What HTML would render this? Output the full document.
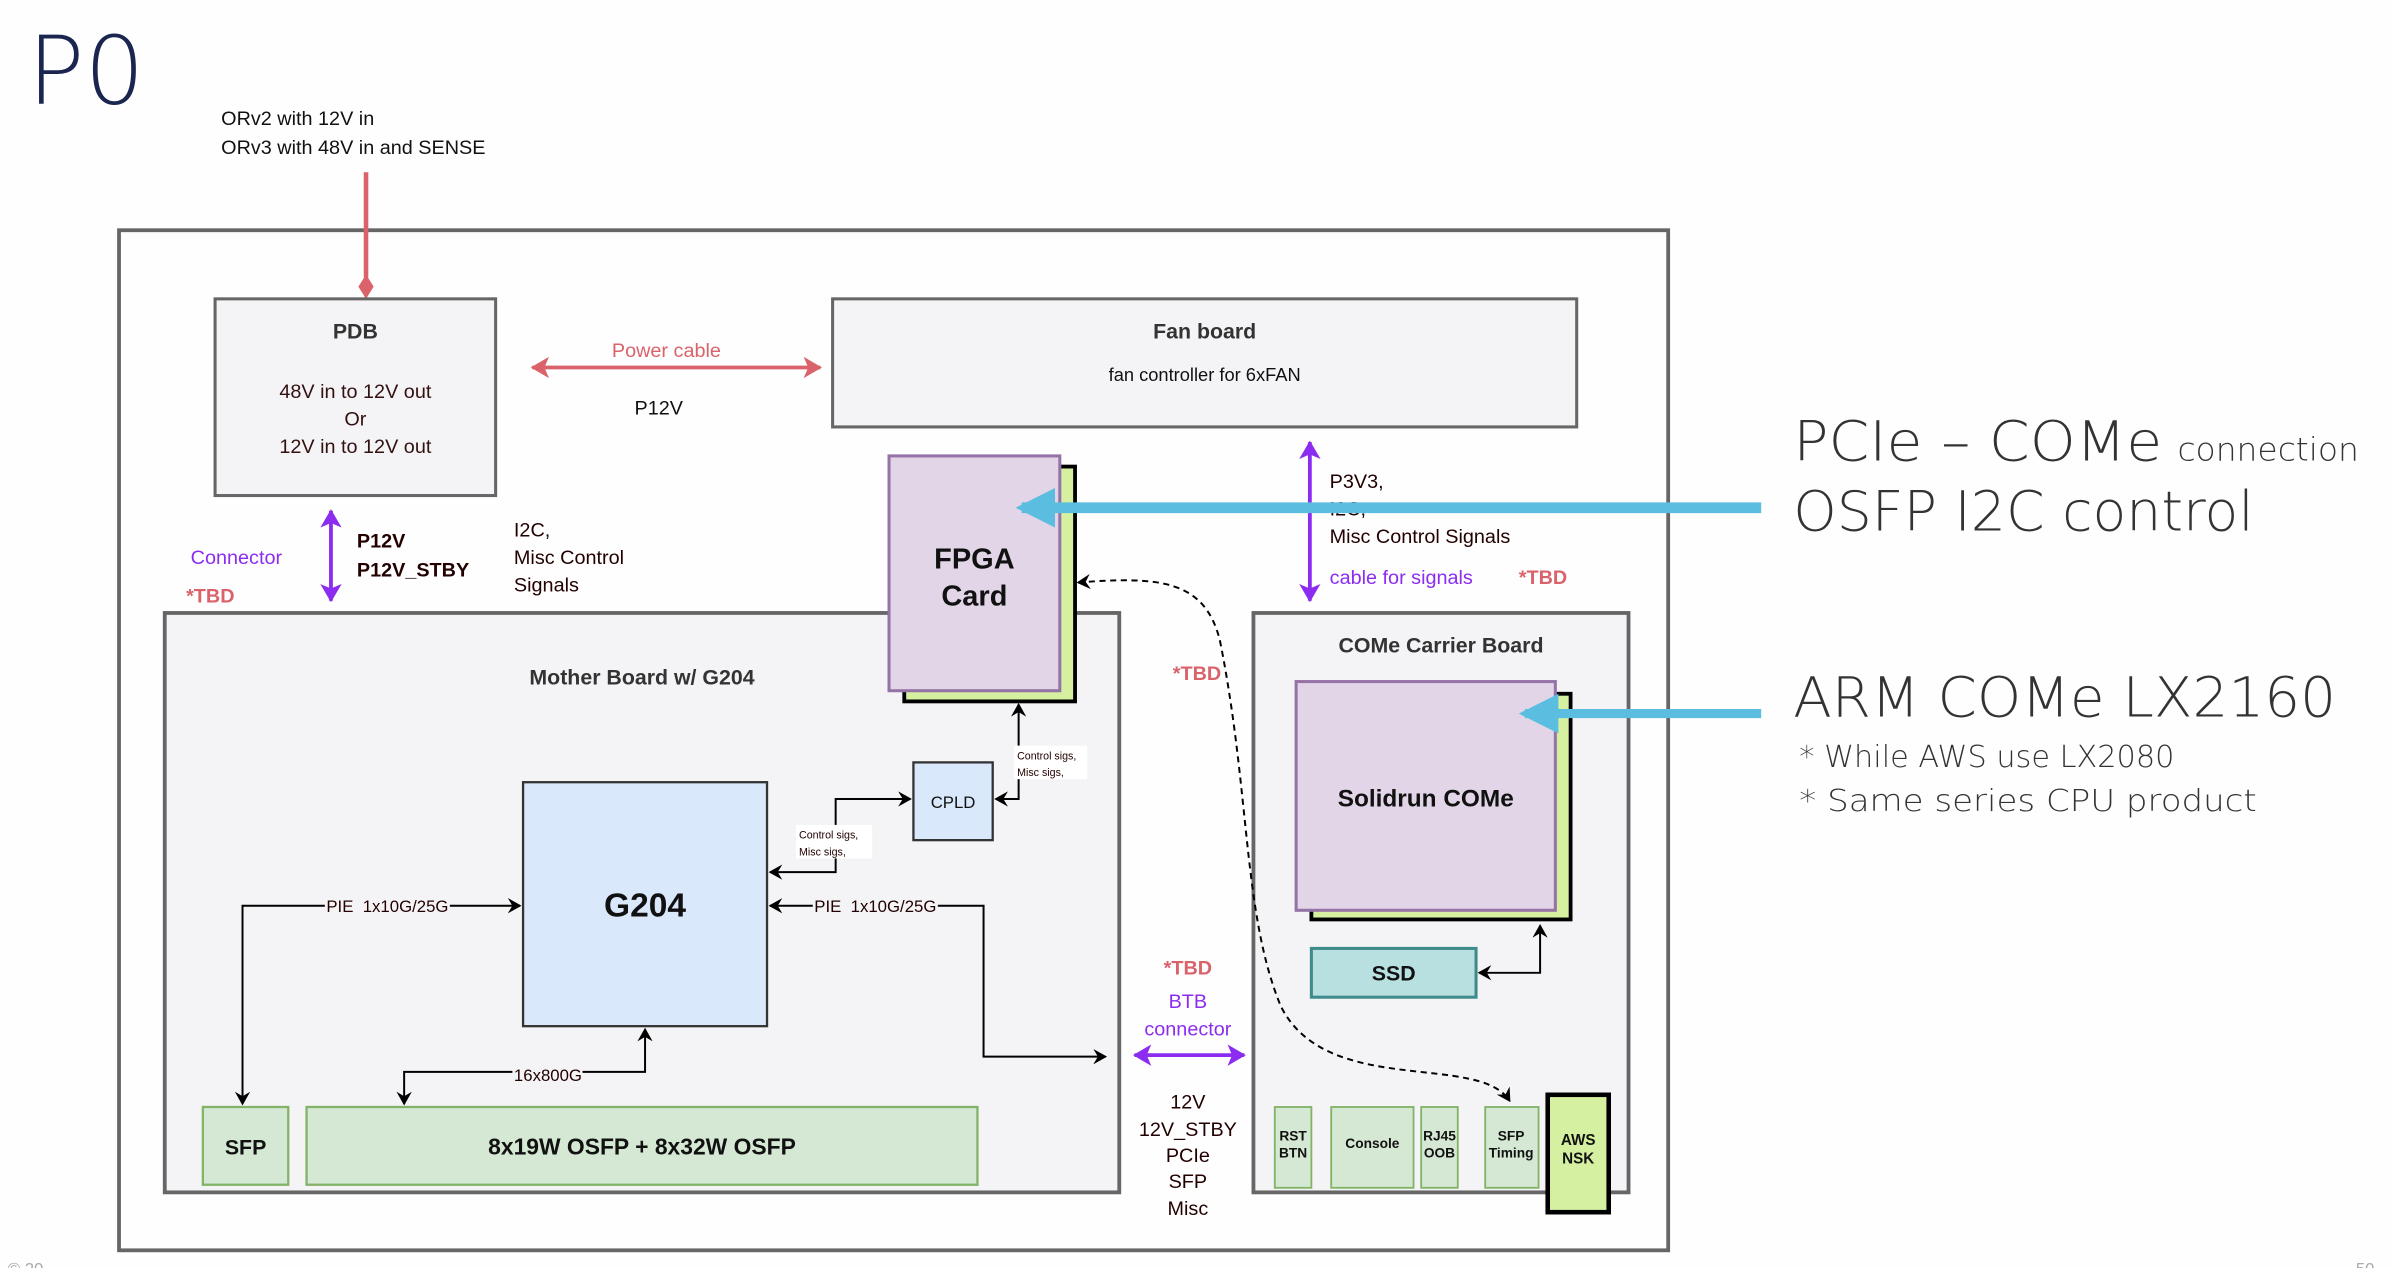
<!DOCTYPE html>
<html><head><meta charset="utf-8"><style>
html,body{margin:0;padding:0;background:#fefefe;}
svg{display:block;font-family:"Liberation Sans",Arial,sans-serif;}
</style></head><body>
<svg width="2391" height="1268" viewBox="0 0 1568 831.6" xmlns="http://www.w3.org/2000/svg">
<defs>
<marker id="ab" markerWidth="10" markerHeight="10" refX="8" refY="5" orient="auto-start-reverse" markerUnits="userSpaceOnUse"><path d="M0,0 L9,5 L0,10 L3,5 z" fill="#000"/></marker>
<marker id="ap" markerWidth="14" markerHeight="14" refX="11" refY="7" orient="auto-start-reverse" markerUnits="userSpaceOnUse"><path d="M0,0 L12,7 L0,14 L3,7 z" fill="#8c2cf0"/></marker>
<marker id="ar" markerWidth="14" markerHeight="14" refX="11" refY="7" orient="auto-start-reverse" markerUnits="userSpaceOnUse"><path d="M0,0 L12,7 L0,14 L3,7 z" fill="#d9626b"/></marker>
<marker id="abl" markerWidth="26" markerHeight="26" refX="22" refY="13" orient="auto" markerUnits="userSpaceOnUse"><path d="M0,0 L26,13 L0,26 z" fill="#5bbde0"/></marker>
</defs>
<rect width="1568" height="832" fill="#fefefe"/>
<text x="18" y="68" font-size="62" fill="#1a2550" font-family="'DejaVu Sans','Liberation Sans',sans-serif" font-weight="200">P0</text>
<text x="145" y="82" font-size="13" fill="#111">ORv2 with 12V in</text>
<text x="145" y="101" font-size="13" fill="#111">ORv3 with 48V in and SENSE</text>

<rect x="78" y="151" width="1016" height="669" fill="#fefefe" stroke="#666" stroke-width="2.5"/>
<line x1="240" y1="113" x2="240" y2="182" stroke="#d9626b" stroke-width="3"/>
<path d="M240,180 L245,188 L240,196 L235,188 z" fill="#d9626b"/>

<rect x="141" y="196" width="184" height="129" fill="#f4f4f6" stroke="#666" stroke-width="2"/>
<text x="233" y="222" font-size="14" font-weight="bold" fill="#333" text-anchor="middle">PDB</text>
<g font-size="13" fill="#331111" text-anchor="middle"><text x="233" y="261">48V in to 12V out</text><text x="233" y="279">Or</text><text x="233" y="297">12V in to 12V out</text></g>

<line x1="349" y1="241" x2="538" y2="241" stroke="#d9626b" stroke-width="2.5" marker-start="url(#ar)" marker-end="url(#ar)"/>
<text x="437" y="234" font-size="13" fill="#d9626b" text-anchor="middle">Power cable</text>
<text x="432" y="272" font-size="13" fill="#111" text-anchor="middle">P12V</text>

<rect x="546" y="196" width="488" height="84" fill="#f4f4f6" stroke="#666" stroke-width="2"/>
<text x="790" y="222" font-size="14" font-weight="bold" fill="#333" text-anchor="middle">Fan board</text>
<text x="790" y="250" font-size="12" fill="#111" text-anchor="middle">fan controller for 6xFAN</text>

<line x1="217" y1="335" x2="217" y2="394" stroke="#8c2cf0" stroke-width="2.5" marker-start="url(#ap)" marker-end="url(#ap)"/>
<text x="125" y="370" font-size="13" fill="#8c2cf0">Connector</text>
<text x="122" y="395" font-size="13" font-weight="bold" fill="#d9626b">*TBD</text>
<text x="234" y="359" font-size="13" font-weight="bold" fill="#220000">P12V</text>
<text x="234" y="378" font-size="13" font-weight="bold" fill="#220000">P12V_STBY</text>
<g font-size="13" fill="#220000"><text x="337" y="352">I2C,</text><text x="337" y="370">Misc Control</text><text x="337" y="388">Signals</text></g>

<rect x="108" y="402" width="626" height="380" fill="#f4f4f6" stroke="#666" stroke-width="2.5"/>
<text x="421" y="449" font-size="14" font-weight="bold" fill="#333" text-anchor="middle">Mother Board w/ G204</text>

<rect x="593" y="306" width="112" height="154" fill="#d5f0a0" stroke="#000" stroke-width="2.5"/>
<rect x="583" y="299" width="112" height="154" fill="#e1d5e7" stroke="#9673a6" stroke-width="2"/>
<text x="639" y="373" font-size="19" font-weight="bold" fill="#111" text-anchor="middle">FPGA</text>
<text x="639" y="397" font-size="19" font-weight="bold" fill="#111" text-anchor="middle">Card</text>

<rect x="343" y="513" width="160" height="160" fill="#dae8fc" stroke="#333" stroke-width="1.5"/>
<text x="423" y="601" font-size="22" font-weight="bold" fill="#111" text-anchor="middle">G204</text>
<rect x="599" y="500" width="52" height="51" fill="#dae8fc" stroke="#333" stroke-width="1.5"/>
<text x="625" y="530" font-size="11" fill="#111" text-anchor="middle">CPLD</text>

<g fill="none" stroke="#000" stroke-width="1.3">
<polyline points="505,572 548,572 548,524 597,524" marker-start="url(#ab)" marker-end="url(#ab)"/>
<polyline points="653,524 668,524 668,462" marker-start="url(#ab)" marker-end="url(#ab)"/>
<polyline points="341,594 159,594 159,724" marker-start="url(#ab)" marker-end="url(#ab)"/>
<polyline points="505,594 645,594 645,693 725,693" marker-start="url(#ab)" marker-end="url(#ab)"/>
<polyline points="423,675 423,703 265,703 265,724" marker-start="url(#ab)" marker-end="url(#ab)"/>
</g>
<g font-size="7" fill="#220000">
<rect x="522" y="541" width="50" height="22" fill="#fff"/>
<text x="524" y="550">Control sigs,</text><text x="524" y="561">Misc sigs,</text>
<rect x="665" y="489" width="48" height="22" fill="#fff"/>
<text x="667" y="498">Control sigs,</text><text x="667" y="509">Misc sigs,</text>
</g>
<g font-size="11" fill="#220000">
<rect x="213" y="587" width="82" height="14" fill="#f4f4f6"/><text x="214" y="598">PIE&#160; 1x10G/25G</text>
<rect x="533" y="587" width="82" height="14" fill="#f4f4f6"/><text x="534" y="598">PIE&#160; 1x10G/25G</text>
<rect x="336" y="698" width="46" height="14" fill="#f4f4f6"/><text x="337" y="709">16x800G</text>
</g>

<rect x="133" y="726" width="56" height="51" fill="#d5e8d4" stroke="#82b366" stroke-width="1.5"/>
<text x="161" y="757" font-size="14" font-weight="bold" fill="#111" text-anchor="middle">SFP</text>
<rect x="201" y="726" width="440" height="51" fill="#d5e8d4" stroke="#82b366" stroke-width="1.5"/>
<text x="421" y="757" font-size="15" font-weight="bold" fill="#111" text-anchor="middle">8x19W OSFP + 8x32W OSFP</text>

<line x1="859" y1="290" x2="859" y2="394" stroke="#8c2cf0" stroke-width="2.5" marker-start="url(#ap)" marker-end="url(#ap)"/>
<g font-size="13" fill="#220000"><text x="872" y="320">P3V3,</text><text x="872" y="338">I2C,</text><text x="872" y="356">Misc Control Signals</text></g>
<text x="872" y="383" font-size="13" fill="#8c2cf0">cable for signals</text>
<text x="996" y="383" font-size="13" font-weight="bold" fill="#d9626b">*TBD</text>

<rect x="822" y="402" width="246" height="380" fill="#f4f4f6" stroke="#666" stroke-width="2.5"/>
<text x="945" y="428" font-size="14" font-weight="bold" fill="#333" text-anchor="middle">COMe Carrier Board</text>
<rect x="860" y="455" width="170" height="148" fill="#d5f0a0" stroke="#000" stroke-width="2.5"/>
<rect x="850" y="447" width="170" height="150" fill="#e1d5e7" stroke="#9673a6" stroke-width="2"/>
<text x="935" y="529" font-size="16" font-weight="bold" fill="#111" text-anchor="middle">Solidrun COMe</text>
<rect x="860" y="622" width="108" height="32" fill="#b9e0e0" stroke="#3f8a8a" stroke-width="2"/>
<text x="914" y="643" font-size="14" font-weight="bold" fill="#111" text-anchor="middle">SSD</text>
<polyline points="970,638 1010,638 1010,607" fill="none" stroke="#000" stroke-width="1.3" marker-start="url(#ab)" marker-end="url(#ab)"/>

<g fill="#d5e8d4" stroke="#82b366" stroke-width="1.2">
<rect x="836" y="726" width="24" height="53"/><rect x="873" y="726" width="54" height="53"/><rect x="932" y="726" width="24" height="53"/><rect x="974" y="726" width="35" height="53"/>
</g>
<rect x="1015" y="718" width="40" height="77" fill="#d5f0a0" stroke="#000" stroke-width="3"/>
<g font-size="9" font-weight="bold" fill="#111" text-anchor="middle">
<text x="848" y="748">RST</text><text x="848" y="759">BTN</text>
<text x="900" y="753">Console</text>
<text x="944" y="748">RJ45</text><text x="944" y="759">OOB</text>
<text x="991" y="748">SFP</text><text x="991" y="759">Timing</text>
<text x="1035" y="751" font-size="10">AWS</text><text x="1035" y="763" font-size="10">NSK</text>
</g>

<path d="M707,382 C760,378 790,380 800,420 C820,520 815,600 840,660 C870,720 970,690 990,722" fill="none" stroke="#000" stroke-width="1.3" stroke-dasharray="4,3" marker-start="url(#ab)" marker-end="url(#ab)"/>

<text x="785" y="446" font-size="13" font-weight="bold" fill="#d9626b" text-anchor="middle">*TBD</text>
<text x="779" y="639" font-size="13" font-weight="bold" fill="#d9626b" text-anchor="middle">*TBD</text>
<text x="779" y="661" font-size="13" fill="#8c2cf0" text-anchor="middle">BTB</text>
<text x="779" y="679" font-size="13" fill="#8c2cf0" text-anchor="middle">connector</text>
<line x1="744" y1="692" x2="816" y2="692" stroke="#8c2cf0" stroke-width="2.5" marker-start="url(#ap)" marker-end="url(#ap)"/>
<g font-size="13" fill="#220000" text-anchor="middle"><text x="779" y="727">12V</text><text x="779" y="745">12V_STBY</text><text x="779" y="762">PCIe</text><text x="779" y="779">SFP</text><text x="779" y="797">Misc</text></g>

<line x1="1155" y1="333" x2="670" y2="333" stroke="#5bbde0" stroke-width="7" marker-end="url(#abl)"/>
<line x1="1155" y1="468" x2="1000" y2="468" stroke="#5bbde0" stroke-width="6" marker-end="url(#abl)"/>

<g fill="#333" font-family="'DejaVu Sans','Liberation Sans',sans-serif" font-weight="200">
<text x="1176" y="302" font-size="36" textLength="242" lengthAdjust="spacingAndGlyphs">PCIe – COMe</text>
<text x="1428" y="302" font-size="21" textLength="119" lengthAdjust="spacingAndGlyphs">connection</text>
<text x="1176" y="348" font-size="36" textLength="302" lengthAdjust="spacingAndGlyphs">OSFP I2C control</text>
<text x="1176" y="470" font-size="36" textLength="356" lengthAdjust="spacingAndGlyphs">ARM COMe LX2160</text>
<text x="1180" y="503" font-size="20" textLength="246" lengthAdjust="spacingAndGlyphs">* While AWS use LX2080</text>
<text x="1180" y="532" font-size="20" textLength="300" lengthAdjust="spacingAndGlyphs">* Same series CPU product</text>
</g>
<text x="5" y="836" font-size="11" fill="#aaa">© 20</text>
<text x="1545" y="836" font-size="11" fill="#aaa">50</text>
</svg>
</body></html>
